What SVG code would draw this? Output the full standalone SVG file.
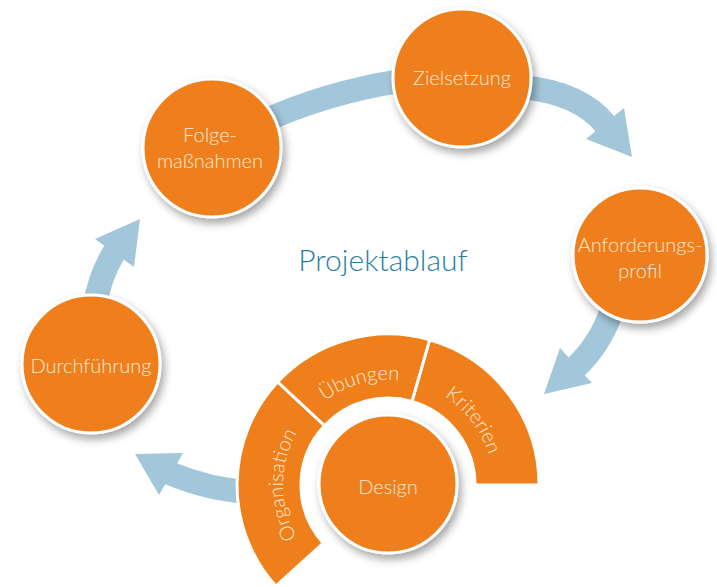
<svg xmlns="http://www.w3.org/2000/svg" width="717" height="587" viewBox="0 0 717 587">
  <defs>
    <style>
      .node { fill: #ee7f1a; stroke: #ffffff; stroke-width: 3; filter: url(#shadow); }
      .seg { fill: #ee7f1a; stroke: #ffffff; stroke-width: 3; }
      .lbl { fill: #fce9d6; font-family: "Lato", "Open Sans", "Liberation Sans", sans-serif; font-weight: 300; font-size: 20px; text-anchor: middle; }
      .band { fill: none; stroke: #a3c7da; stroke-width: 24; stroke-linecap: butt; }
      .head { fill: #a3c7da; }
      .title { fill: #2a7fa0; font-family: "Lato", "Open Sans", "Liberation Sans", sans-serif; font-weight: 300; font-size: 30px; text-anchor: middle; }
    </style>
    <filter id="shadow" x="-30%" y="-30%" width="170%" height="170%">
      <feDropShadow dx="3" dy="5" stdDeviation="4" flood-color="#000000" flood-opacity="0.35"/>
    </filter>
    <!-- baseline circle for the curved labels, running clockwise from the bottom -->
    <path id="ring" d="M 388 590 A 105 105 0 0 1 388 380 A 105 105 0 0 1 388 590"/>
  </defs>

  <rect width="717" height="587" fill="#ffffff"/>

  <!-- cycle arrows -->
  <g id="connectors">
    <path class="band" d="M 262 122 Q 325 93 400 81"/>
    <path class="band" d="M 520 87 Q 580 92 607 126"/>
    <polygon class="head" points="632,157 624,108 586,139"/>
    <path class="band" d="M 612 310 Q 600 345 575 368"/>
    <polygon class="head" points="544,394 560,348 592,383"/>
    <path class="band" d="M 250 492 Q 210 490 169 473"/>
    <polygon class="head" points="135,454 183,453 159,495"/>
    <path class="band" d="M 95 305 Q 100 275 115 251"/>
    <polygon class="head" points="140,219 95,239 134,267"/>
  </g>

  <text class="title" x="383" y="271">Projektablauf</text>

  <!-- design ring segments -->
  <g id="seg-kriterien">
    <path class="seg" d="M 539 485 A 151 151 0 0 0 429.6 339.8 L 412 401.4 A 87 87 0 0 1 475 485 Z"/>
    <text class="lbl"><textPath href="#ring" startOffset="64.7%">Kriterien</textPath></text>
  </g>
  <g id="seg-uebungen">
    <path class="seg" d="M 429.6 339.8 A 151 151 0 0 0 277.6 382 L 324.4 425.7 A 87 87 0 0 1 412 401.4 Z"/>
    <text class="lbl"><textPath href="#ring" startOffset="45.7%">Übungen</textPath></text>
  </g>
  <g id="seg-organisation">
    <path class="seg" d="M 277.6 382 A 151 151 0 0 0 275.8 586 L 323.3 543.2 A 87 87 0 0 1 324.4 425.7 Z"/>
    <text class="lbl"><textPath href="#ring" startOffset="25%">Organisation</textPath></text>
  </g>

  <!-- process nodes -->
  <g id="design">
    <circle class="node" cx="388" cy="484" r="69"/>
    <text class="lbl" x="388" y="494">Design</text>
  </g>
  <g id="zielsetzung">
    <circle class="node" cx="462" cy="78" r="69"/>
    <text class="lbl" x="462" y="85">Zielsetzung</text>
  </g>
  <g id="anforderungsprofil">
    <circle class="node" cx="640" cy="255" r="67"/>
    <text class="lbl" x="640" y="252">Anforderungs-</text>
    <text class="lbl" x="640" y="278">profil</text>
  </g>
  <g id="folgemassnahmen">
    <circle class="node" cx="212" cy="148" r="69"/>
    <text class="lbl" x="210" y="142">Folge-</text>
    <text class="lbl" x="210" y="168">maßnahmen</text>
  </g>
  <g id="durchfuehrung">
    <circle class="node" cx="91" cy="364" r="69"/>
    <text class="lbl" x="91" y="373">Durchführung</text>
  </g>
</svg>
